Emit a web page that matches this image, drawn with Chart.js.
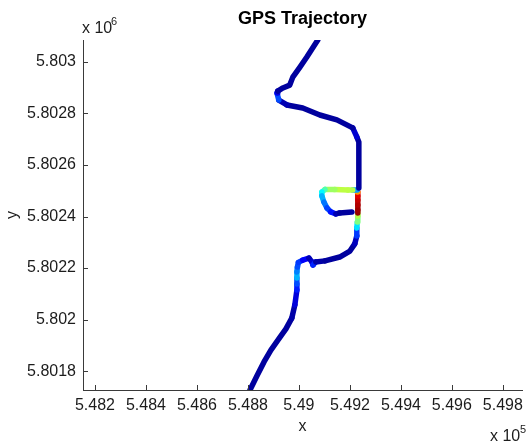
<!DOCTYPE html>
<html>
<head>
<meta charset="utf-8">
<title>GPS Trajectory</title>
<script src="https://cdn.jsdelivr.net/npm/chart.js@4.4.0/dist/chart.umd.min.js"></script>
<style>
  html, body { margin: 0; padding: 0; background: #ffffff; }
  #wrap { position: relative; width: 531px; height: 445px; }
</style>
</head>
<body>
<div id="wrap"><canvas id="chart"></canvas></div>
<script>
// Easting / northing of the logged fixes (metres), south to north.
// A null entry breaks the line where the loop rejoins the main road.
const trackX = [548808, 548835, 548863, 548890, 548921, 548949, 548972, 548984, 548992, 548992,
                548992, 548992, 548994, 548998, 549015, 549039, 549051, 549055, 549066, 549102,
                549160, 549200, 549219, 549227, 549227, 549229, 549231, 549231, 549231, 549231,
                549231, 549231, 549231, 549229, 549211, 549192, 549141, 549102, 549090, 549090,
                549098, 549110, 549125, 549145, 549160, 549208, null,
                549235, 549235, 549227, 549211, 549149, 549082, 549015, 548953, 548921, 548914,
                548917, 548937, 548964, 548976, 549004, 549031, 549074];
const trackY = [5801727, 5801781, 5801836, 5801882, 5801925, 5801964, 5802006, 5802057, 5802115, 5802138,
                5802162, 5802185, 5802204, 5802222, 5802231, 5802239, 5802224, 5802212, 5802224, 5802228,
                5802243, 5802266, 5802294, 5802325, 5802356, 5802379, 5802402, 5802414, 5802425, 5802445,
                5802464, 5802480, 5802495, 5802503, 5802503, 5802503, 5802505, 5802505, 5802495, 5802480,
                5802456, 5802433, 5802418, 5802410, 5802414, 5802418, null,
                5802511, 5802689, 5802709, 5802744, 5802775, 5802794, 5802821, 5802833, 5802852, 5802879,
                5802887, 5802899, 5802910, 5802941, 5802980, 5803019, 5803085];
// Colour value (0..1, jet colormap) of the stretch ending at each fix.
const trackLevel = [0.03, 0.03, 0.03, 0.03, 0.03, 0.03, 0.03, 0.04, 0.09, 0.15,
                    0.20, 0.30, 0.25, 0.20, 0.18, 0.12, 0.05, 0.08, 0.16, 0.04,
                    0.03, 0.03, 0.03, 0.06, 0.18, 0.35, 0.50, 0.55, 0.98, 0.97,
                    0.95, 0.93, 0.90, 0.72, 0.28, 0.55, 0.56, 0.53, 0.45, 0.37,
                    0.30, 0.24, 0.19, 0.14, 0.05, 0.03, null,
                    0.03, 0.03, 0.03, 0.08, 0.03, 0.03, 0.03, 0.03, 0.05, 0.20,
                    0.10, 0.03, 0.03, 0.03, 0.03, 0.03, 0.03];

// Axis ticks (values in metres, labels in units of 10^5 / 10^6)
const xTickValues = [548200, 548400, 548600, 548800, 549000, 549200, 549400, 549600, 549800];
const xTickLabels = ['5.482', '5.484', '5.486', '5.488', '5.49', '5.492', '5.494', '5.496', '5.498'];
const yTickValues = [5801800, 5802000, 5802200, 5802400, 5802600, 5802800, 5803000];
const yTickLabels = ['5.8018', '5.802', '5.8022', '5.8024', '5.8026', '5.8028', '5.803'];
const xLimits = [548153, 549875];
const yLimits = [5801727, 5803085];

const FONT = "'Liberation Sans', Arial, Helvetica, sans-serif";
const TEXT = '#1c1c1c';
const AXIS = '#3a3a3a';

function jet(v) {
  const ch = c => Math.round(255 * Math.max(0, Math.min(1, 1.5 - Math.abs(4 * v - c))));
  return `rgb(${ch(3)}, ${ch(2)}, ${ch(1)})`;
}

const points = trackX.map((x, i) => ({ x: x, y: trackY[i] }));

// Inward tick marks and the "x 10^n" exponent labels, MATLAB style
const axesDecor = {
  id: 'axesDecor',
  afterDraw(chart) {
    const { ctx, chartArea: a } = chart;
    const xs = chart.scales.x, ys = chart.scales.y;
    ctx.save();
    ctx.strokeStyle = AXIS;
    ctx.lineWidth = 1;
    ctx.beginPath();
    xs.ticks.forEach(t => {
      const px = Math.round(xs.getPixelForValue(t.value)) + 0.5;
      ctx.moveTo(px, a.bottom);
      ctx.lineTo(px, a.bottom - 5);
    });
    ys.ticks.forEach(t => {
      const py = Math.round(ys.getPixelForValue(t.value)) + 0.5;
      ctx.moveTo(a.left, py);
      ctx.lineTo(a.left + 5, py);
    });
    ctx.stroke();

    ctx.fillStyle = TEXT;
    ctx.textAlign = 'left';
    ctx.textBaseline = 'alphabetic';
    ctx.font = `16px ${FONT}`;
    ctx.fillText('x 10', 82, 33);
    ctx.fillText('x 10', 490, 441);
    ctx.font = `11px ${FONT}`;
    ctx.fillText('6', 111, 25);
    ctx.fillText('5', 520, 433);
    ctx.restore();
  }
};

new Chart(document.getElementById('chart'), {
  type: 'line',
  data: {
    datasets: [{
      data: points,
      borderWidth: 5.5,
      borderColor: jet(0.03),
      borderCapStyle: 'round',
      borderJoinStyle: 'round',
      pointRadius: 0,
      pointHoverRadius: 0,
      tension: 0,
      spanGaps: false,
      clip: 0,
      segment: {
        borderColor: ctx => jet(trackLevel[ctx.p1DataIndex])
      }
    }]
  },
  options: {
    responsive: true,
    maintainAspectRatio: false,
    animation: false,
    events: [],
    layout: { padding: { left: 0, right: 9, top: 0, bottom: 0 } },
    plugins: {
      legend: { display: false },
      tooltip: { enabled: false },
      title: {
        display: true,
        text: 'GPS Trajectory',
        fullSize: false,
        color: '#000000',
        font: { family: FONT, size: 18, weight: 'bold', lineHeight: 1.2 },
        padding: { top: 8.5, bottom: 9.9 }
      }
    },
    scales: {
      x: {
        type: 'linear',
        min: xLimits[0],
        max: xLimits[1],
        afterBuildTicks: s => { s.ticks = xTickValues.map(v => ({ value: v })); },
        afterFit: s => { s.height = 55; },
        grid: { display: false, drawTicks: false },
        border: { display: true, color: AXIS, width: 1 },
        ticks: {
          padding: 6.4,
          color: TEXT,
          maxRotation: 0,
          autoSkip: false,
          font: { family: FONT, size: 16 },
          callback: v => xTickLabels[xTickValues.indexOf(v)]
        },
        title: {
          display: true,
          text: 'x',
          color: TEXT,
          font: { family: FONT, size: 16 },
          padding: { top: 0, bottom: 8.5 }
        }
      },
      y: {
        type: 'linear',
        min: yLimits[0],
        max: yLimits[1],
        afterBuildTicks: s => { s.ticks = yTickValues.map(v => ({ value: v })); },
        afterFit: s => { s.width = 83; },
        grid: { display: false, drawTicks: false },
        border: { display: true, color: AXIS, width: 1 },
        ticks: {
          padding: 7,
          color: TEXT,
          autoSkip: false,
          font: { family: FONT, size: 16 },
          callback: v => yTickLabels[yTickValues.indexOf(v)]
        },
        title: {
          display: true,
          text: 'y',
          color: TEXT,
          font: { family: FONT, size: 16 },
          padding: { top: 3.4, bottom: 0 }
        }
      }
    }
  },
  plugins: [axesDecor]
});
</script>
</body>
</html>
